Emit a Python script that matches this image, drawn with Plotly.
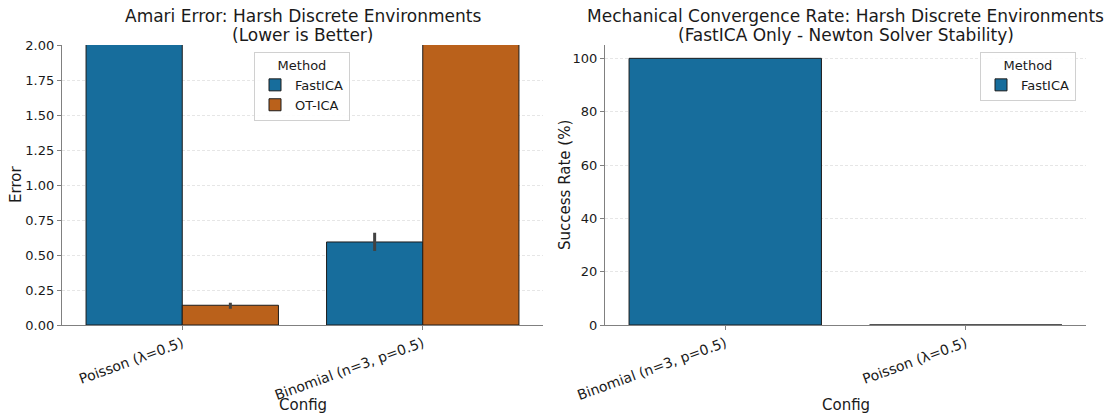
import plotly.graph_objects as go

# ---- data ----
left_configs = ["Poisson (λ=0.5)", "Binomial (n=3, p=0.5)"]
fastica_err = [2.6, 0.593]
fastica_err_hi = [0.0, 0.066]
fastica_err_lo = [0.0, 0.064]
otica_err = [0.141, 2.4]
otica_err_hi = [0.018, 0.0]
otica_err_lo = [0.025, 0.0]

right_configs = ["Binomial (n=3, p=0.5)", "Poisson (λ=0.5)"]
fastica_success = [100, 0]

left_ticks = [0, 0.25, 0.5, 0.75, 1.0, 1.25, 1.5, 1.75, 2.0]
left_ticktext = ["0.00", "0.25", "0.50", "0.75", "1.00", "1.25", "1.50", "1.75", "2.00"]
right_ticks = [0, 20, 40, 60, 80, 100]

BLUE = "#176d9c"
ORANGE = "#ba611b"
EDGE = "#1c1c1c"
ERRC = "#424242"
FONT = "DejaVu Sans"
W, H = 1109, 414

def px(x):
    return x / W

def py(y):
    return 1 - y / H

fig = go.Figure()

fig.add_trace(go.Bar(
    x=left_configs, y=fastica_err, name="FastICA",
    marker=dict(color=BLUE, line=dict(color=EDGE, width=1)),
    error_y=dict(type="data", array=fastica_err_hi, arrayminus=fastica_err_lo,
                 color=ERRC, thickness=3, width=0),
    xaxis="x", yaxis="y", legend="legend",
))
fig.add_trace(go.Bar(
    x=left_configs, y=otica_err, name="OT-ICA",
    marker=dict(color=ORANGE, line=dict(color=EDGE, width=1)),
    error_y=dict(type="data", array=otica_err_hi, arrayminus=otica_err_lo,
                 color=ERRC, thickness=3, width=0),
    xaxis="x", yaxis="y", legend="legend",
))
fig.add_trace(go.Bar(
    x=right_configs, y=fastica_success, name="FastICA",
    marker=dict(color=BLUE, line=dict(color=EDGE, width=1)),
    xaxis="x2", yaxis="y2", legend="legend2",
))

axis_common = dict(
    showline=True, linecolor="#808080", linewidth=1.2,
    ticks="outside", ticklen=4, tickcolor="#808080", tickwidth=1.2,
    zeroline=False, automargin=False,
)
xfont = dict(family=FONT, size=14, color="#1a1a1a")
yfont = dict(family=FONT, size=13, color="#1a1a1a")

yd = [py(325), py(45)]
fig.update_layout(
    template="none",
    width=W, height=H,
    margin=dict(l=0, r=0, t=0, b=0),
    plot_bgcolor="white", paper_bgcolor="white",
    barmode="group", bargap=0.2, bargroupgap=0,
    font=dict(family=FONT, size=13, color="#1a1a1a"),
    xaxis=dict(domain=[px(62), px(543)], anchor="y", type="category",
               categoryorder="array", categoryarray=left_configs,
               range=[-0.5, 1.5], tickangle=-20, showgrid=False,
               tickfont=xfont, **axis_common),
    yaxis=dict(domain=yd, anchor="x", range=[0, 2.0], tickvals=left_ticks,
               ticktext=left_ticktext, showgrid=True, gridcolor="#e6e6e6",
               griddash="3px,2px", gridwidth=1, tickfont=yfont, **axis_common),
    xaxis2=dict(domain=[px(605), px(1086)], anchor="y2", type="category",
                categoryorder="array", categoryarray=right_configs,
                range=[-0.5, 1.5], tickangle=-20, showgrid=False,
                tickfont=xfont, **axis_common),
    yaxis2=dict(domain=yd, anchor="x2", range=[0, 105], tickvals=right_ticks,
                showgrid=True, gridcolor="#e6e6e6", griddash="3px,2px", gridwidth=1,
                tickfont=yfont, **axis_common),
    legend=dict(
        title=dict(text="Method", side="top center", font=dict(family=FONT, size=13)),
        x=px(254), y=py(52), xanchor="left", yanchor="top",
        bgcolor="rgba(255,255,255,0.85)", bordercolor="#d0d0d0", borderwidth=1,
        font=dict(family=FONT, size=13), itemwidth=30,
    ),
    legend2=dict(
        title=dict(text="Method", side="top center", font=dict(family=FONT, size=13)),
        x=px(980), y=py(52), xanchor="left", yanchor="top",
        bgcolor="rgba(255,255,255,0.85)", bordercolor="#d0d0d0", borderwidth=1,
        font=dict(family=FONT, size=13), itemwidth=30,
    ),
)

ann = []
def text(x, y, s, size, angle=0):
    ann.append(dict(x=px(x), y=py(y), xref="paper", yref="paper", text=s,
                    showarrow=False, xanchor="center", yanchor="middle",
                    textangle=angle, font=dict(family=FONT, size=size, color="#1a1a1a")))

text(302.5, 16, "Amari Error: Harsh Discrete Environments", 17)
text(302.5, 35, "(Lower is Better)", 17)
text(845.5, 16, "Mechanical Convergence Rate: Harsh Discrete Environments", 17)
text(845.5, 35, "(FastICA Only - Newton Solver Stability)", 17)
text(302.5, 405, "Config", 15)
text(845.5, 405, "Config", 15)
text(16, 185, "Error", 15, -90)
text(565, 185, "Success Rate (%)", 15, -90)
fig.update_layout(annotations=ann)

fig.write_html("out.html")
